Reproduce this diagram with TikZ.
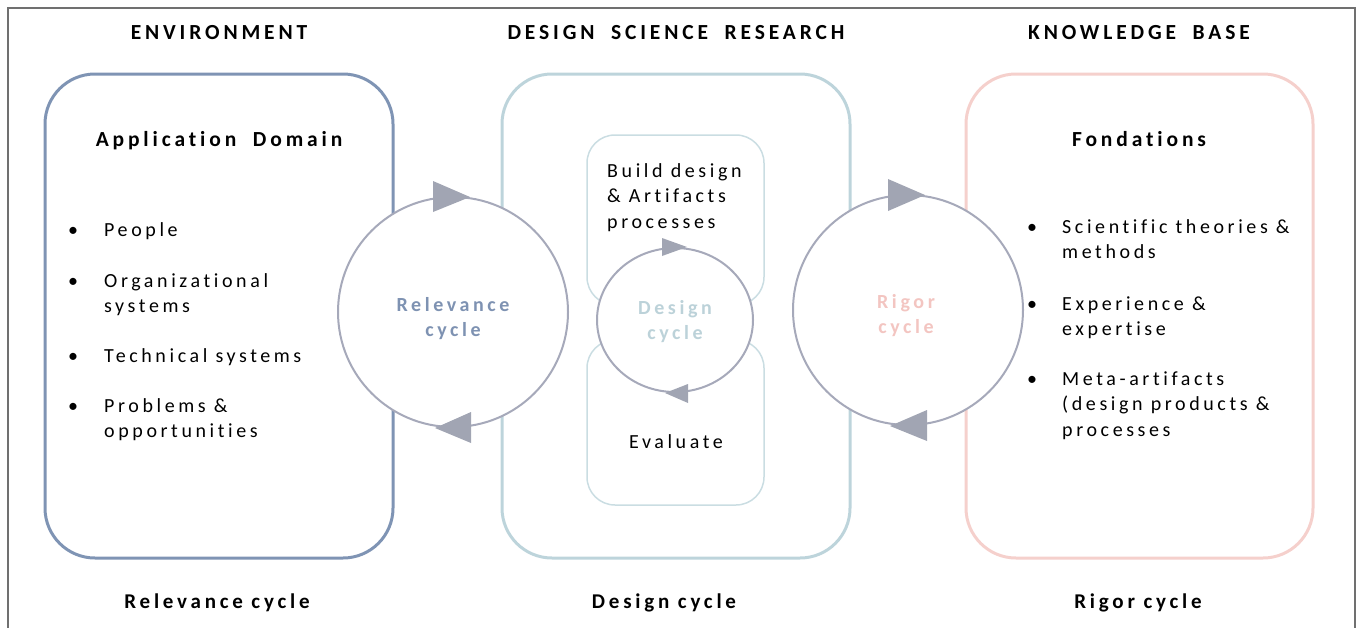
\documentclass[tikz,border=0pt]{standalone}
\usepackage{fontspec}
\setmainfont{Carlito}[LetterSpace=18, Ligatures={NoCommon}]
\newfontfamily\headfont{Carlito}[LetterSpace=18, WordSpace=1.9, Ligatures={NoCommon}]
\usetikzlibrary{shapes.geometric}
\definecolor{envc}{HTML}{7F94B4}
\definecolor{dsrc}{HTML}{BDD4DB}
\definecolor{dsri}{HTML}{CADDE2}
\definecolor{kbc}{HTML}{F5D0CC}
\definecolor{cyc}{HTML}{A6A9BA}
\definecolor{tri}{HTML}{A1A5B3}
\definecolor{frm}{HTML}{707070}
\definecolor{relt}{HTML}{7E92B2}
\definecolor{dest}{HTML}{BCD2D9}
\definecolor{rigt}{HTML}{F3C5C1}
\tikzset{
  bigbox/.style={draw, line width=3pt, rounded corners=50pt, minimum width=348pt, minimum height=484pt, inner sep=0pt},
  smallbox/.style={draw=dsri, line width=1.5pt, rounded corners=28pt, minimum width=177pt, inner sep=0pt},
  cyclecirc/.style={draw=cyc, fill=white, line width=2pt, circle, minimum size=230pt, inner sep=0pt},
  head/.style={font=\fontsize{21}{25}\selectfont\bfseries, inner sep=0pt, anchor=base},
  tophead/.style={font=\headfont\fontsize{21.5}{25}\selectfont\bfseries, inner sep=0pt, anchor=base},
  body/.style={font=\fontsize{20}{25.5}\selectfont, inner sep=0pt, align=left, anchor=base west},
  bul/.style={font=\fontsize{20}{25.5}\selectfont, inner sep=0pt, anchor=base west},
  cyclab/.style={font=\fontsize{20}{25.5}\selectfont\bfseries, inner sep=0pt, align=center, anchor=base},
  tip/.style={fill=tri, draw=none}
}
\begin{document}
\begin{tikzpicture}[x=1pt,y=-1pt]
\useasboundingbox (0,0) rectangle (1360,627);
% frame
\coordinate (f1) at (8,640);
\coordinate (f2) at (8,8);
\coordinate (f3) at (1355,8);
\coordinate (f4) at (1355,640);
\draw[frm, line width=1.5pt] (f1) -- (f2) -- (f3) -- (f4);

% big boxes
\node[bigbox, draw=envc] (env) at (219,316) {};
\node[bigbox, draw=dsrc] (dsr) at (676,316) {};
\node[bigbox, draw=kbc, minimum width=347pt] (kb) at (1139.5,316) {};

% inner boxes
\node[smallbox, minimum height=170pt] (build) at (675.5,220) {};
\node[smallbox, minimum height=165pt] (eval) at (675.5,422.5) {};

% cycles
\node[cyclecirc] (rel) at (453,312) {};
\node[cyclecirc] (rig) at (908,310) {};
\node[draw=cyc, fill=white, line width=2pt, ellipse, minimum width=156pt, minimum height=144pt, inner sep=0pt] (des) at (675,320) {};

% arrow heads
\fill[tip] ([shift={(-20,-15)}]rel.north) -- ([shift={(17,1)}]rel.north) -- ([shift={(-20,16)}]rel.north) -- cycle;
\fill[tip] ([shift={(18,-16)}]rel.south) -- ([shift={(-18,0)}]rel.south) -- ([shift={(18,15)}]rel.south) -- cycle;
\fill[tip] ([shift={(-20,-15)}]rig.north) -- ([shift={(17,1)}]rig.north) -- ([shift={(-20,17)}]rig.north) -- cycle;
\fill[tip] ([shift={(19,-16)}]rig.south) -- ([shift={(-18,0)}]rig.south) -- ([shift={(19,15)}]rig.south) -- cycle;
\fill[tip] ([shift={(-13,-9)}]des.north) -- ([shift={(12,0)}]des.north) -- ([shift={(-13,9)}]des.north) -- cycle;
\fill[tip] ([shift={(13,-9)}]des.south) -- ([shift={(-10,0)}]des.south) -- ([shift={(13,10)}]des.south) -- cycle;

% headings
\node[tophead] (envT) at (219,39) {ENVIRONMENT};
\node[tophead] (dsrT) at (676,39) {DESIGN SCIENCE RESEARCH};
\node[tophead] (kbT) at (1139,39) {KNOWLEDGE BASE};
\node[tophead] (appD) at (219,146) {Application Domain};
\node[tophead] (fond) at (1139,146) {Fondations};
\node[head] (relB) at (217,608) {Relevance cycle};
\node[head] (desB) at (664,608) {Design cycle};
\node[head] (rigB) at (1138,608) {Rigor cycle};

% left list
\node[bul] (lb1) at (68,236) {•};
\node[body] (l1) at (104,236) {People};
\node[bul] (lb2) at (68,287) {•};
\node[body] (l2) at (104,312.5) {Organizational\\systems};
\node[bul] (lb3) at (68,362) {•};
\node[body] (l3) at (104,362) {Technical systems};
\node[bul] (lb4) at (68,412) {•};
\node[body] (l4) at (104,437.5) {Problems \&\\opportunities};

% right list
\node[bul] (rb1) at (1027,233) {•};
\node[body] (r1) at (1062,258.5) {Scientific theories \&\\methods};
\node[bul] (rb2) at (1027,310) {•};
\node[body] (r2) at (1062,335.5) {Experience \&\\expertise};
\node[bul] (rb3) at (1027,385) {•};
\node[body] (r3) at (1062,436) {Meta-artifacts\\(design products \&\\processes};

% design boxes text
\node[body] (bt) at (607,228) {Build design\\\& Artifacts\\processes};
\node[body, anchor=base] (et) at (676,448) {Evaluate};

% cycle labels
\node[cyclab, text=relt] (relL) at (453,336.5) {Relevance\\cycle};
\node[cyclab, text=dest] (desL) at (675,339.5) {Design\\cycle};
\node[cyclab, text=rigt] (rigL) at (906,333.5) {Rigor\\cycle};
\end{tikzpicture}
\end{document}
